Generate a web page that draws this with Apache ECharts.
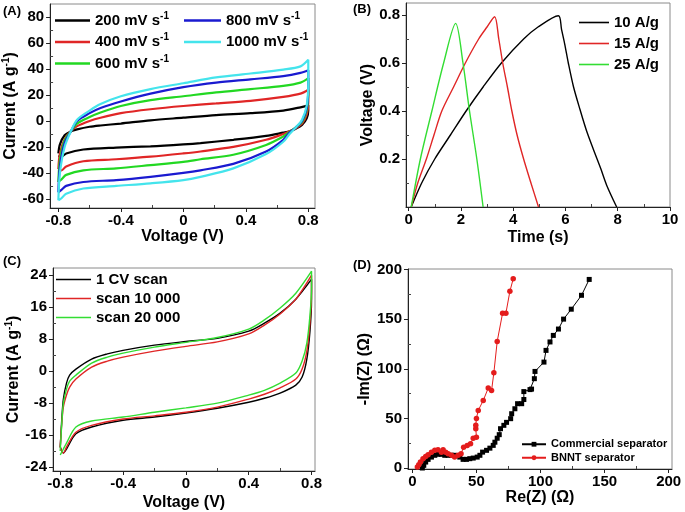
<!DOCTYPE html>
<html><head><meta charset="utf-8">
<script src="https://cdn.jsdelivr.net/npm/echarts@6/dist/echarts.min.js"></script>
<style>html,body{margin:0;padding:0;background:#fff}#c{width:685px;height:512px}</style>
</head><body><div id="c"></div>
<script>
// ---------- Panel A: CV at different scan rates ----------
const A_upV = [-0.8,-0.79,-0.76,-0.72,-0.68,-0.6,-0.53,-0.4,-0.21,0,0.21,0.43,0.64,0.75,0.8];
const A_loV = [0.8,0.79,0.76,0.72,0.68,0.64,0.53,0.32,0.11,0,-0.21,-0.43,-0.64,-0.75,-0.78,-0.8];
const A_200_up = [-25,-18,-11,-8,-6.5,-4.5,-3.5,-2,0.5,2.5,4.5,6,8,10.5,12];
const A_200_lo = [8,2,-3,-6,-8,-9,-11.5,-14.5,-17,-18,-19.5,-20.5,-22,-25,-27.5,-27];
const A_400_up = [-37,-25,-14,-8,-4,0,2.5,6,9,11.5,13.5,15.5,18.5,21,24];
const A_400_lo = [14,5,-2,-5.5,-8,-10,-14.5,-20,-23.5,-25,-27.5,-29.5,-31,-35,-38,-38];
const A_600_up = [-47,-30,-15,-8,-2,3,6.5,11.5,16,19,22,24.5,27,29.5,33];
const A_600_lo = [20,8,-1,-5,-8.5,-12,-18.5,-26,-29.5,-31.5,-34,-36.5,-38,-41.5,-45,-47];
const A_800_up = [-55,-35,-17,-8,0,6,10,15,21,26,29.5,32,34.5,37,39];
const A_800_lo = [25,10,0,-5,-9,-14.5,-23.5,-33,-38,-40,-43,-45.5,-47,-50,-53,-55];
const A_1000_up = [-61,-40,-20,-8,1,8,13,19,24.5,29,33.5,36.5,39.5,42,47];
const A_1000_lo = [30,12,1,-5,-10,-16,-25.5,-36.5,-43,-45.5,-48,-50,-52,-56,-59.5,-61];
const A_names = ['200 mV s','400 mV s','600 mV s','800 mV s','1000 mV s'];
const A_xLabels = [-0.8,-0.4,0,0.4,0.8];
const A_xMinor = [-0.6,-0.2,0.2,0.6];
const A_yLabels = [-60,-40,-20,0,20,40,60,80];
const A_yMinor = [-50,-30,-10,10,30,50,70];

// ---------- Panel B: galvanostatic charge/discharge ----------
const B_10_t = [0.1,0.5,1.0,1.6,2.2,2.85,3.55,4.4,4.95,5.73,5.85,5.97,6.11,6.31,6.56,6.8,7.07,7.35,7.58,7.96];
const B_10_v = [0,0.1,0.2,0.3,0.4,0.5,0.6,0.7,0.75,0.797,0.74,0.68,0.6,0.5,0.405,0.32,0.24,0.16,0.09,0];
const B_15_t = [0.1,0.35,0.68,0.97,1.27,1.72,2.17,2.68,3.0,3.29,3.45,3.6,3.78,3.95,4.15,4.4,4.68,4.97];
const B_15_v = [0,0.1,0.2,0.3,0.4,0.5,0.6,0.7,0.75,0.793,0.7,0.6,0.5,0.4,0.3,0.2,0.1,0];
const B_25_t = [0.1,0.45,0.89,1.34,1.8,2.08,2.33,2.61,2.85];
const B_25_v = [0,0.2,0.4,0.6,0.765,0.6,0.4,0.2,0];
const B_names = ['10 A/g','15 A/g','25 A/g'];
const B_xLabels = [0,2,4,6,8,10];
const B_xMinor = [1,3,5,7,9];
const B_yLabels = [0.2,0.4,0.6,0.8];
const B_yMinor = [0.1,0.3,0.5,0.7];

// ---------- Panel C: cycling CV ----------
const C_upV = [-0.8,-0.79,-0.78,-0.76,-0.74,-0.7,-0.6,-0.5,-0.4,-0.2,0,0.2,0.4,0.5,0.6,0.7,0.8];
const C_loV = [0.8,0.79,0.77,0.74,0.7,0.6,0.5,0.4,0.2,0,-0.2,-0.4,-0.6,-0.7,-0.76,-0.78,-0.8];
const C_1_up = [-19,-12,-7,-3,-1,0.5,3,4.3,5.2,6.5,7.4,8.2,10,12,14.5,18,23];
const C_1_lo = [18,10,3,-1.5,-3.5,-5.5,-6.8,-7.8,-9.3,-10.5,-11.5,-12.3,-14,-15.7,-19.5,-20.5,-19];
const C_10k_up = [-19,-13,-9,-6,-4,-2,1,2.5,3.5,5,6.2,7.3,9.3,11.5,14.3,18,24];
const C_10k_lo = [20,12,5,0.5,-2,-4.2,-5.8,-7,-9,-10.3,-11.2,-12,-13.6,-15.3,-19,-20.5,-19];
const C_20k_up = [-20,-13,-8,-4.5,-2.5,-1,2,3.5,4.5,6,7.2,8.4,10.5,12.8,15.8,19.5,25];
const C_20k_lo = [21,14,7,2.5,-0.5,-3,-4.8,-6,-8,-9.2,-10.3,-11.5,-12.5,-14,-18,-19.5,-21];
const C_names = ['1 CV scan','scan 10 000','scan 20 000'];
const C_yLabels = [-24,-16,-8,0,8,16,24];
const C_yMinor = [-20,-12,-4,4,12,20];

// ---------- Panel D: Nyquist ----------
const D_com_re = [7.8,8.9,10.4,12.3,14.9,17.5,20,22.7,25.3,27.9,30.5,33,37,39.6,42.2,44.8,47.5,50.6,52.7,54.8,57.9,60.5,63.1,64.4,66.2,67.8,68.8,71.4,73.5,76.7,77.5,80,82.1,85.3,87,87,91.8,93,95.2,95.7,102.7,104.3,107.4,110,114,118,124,132,138];
const D_com_im = [0,2.7,6,8.7,11,12.8,13.8,13.8,12.8,12.8,12.8,12.8,11,8.7,8.7,9.4,10,11,12.8,16,17.8,20,22.8,26,30,33.6,39.6,43,46,49.7,54.7,59.7,64.8,64.8,69,77,79,79.5,90,97.3,106.7,118.5,127,133.6,140,150,160,174,190];
const D_bn_re = [3.9,5,6.3,8.3,10.4,12.3,14.9,17.5,20,22.7,24,26,27.9,30.5,33,35.7,38,40,42.8,45.4,47.5,50,49.5,49.5,50,51.4,55.3,59.2,61.8,63.6,66.2,70.4,73,76.1,78.7];
const D_bn_im = [1,3.4,6,9.4,11.7,13.4,16,17.8,18.5,16,18.5,16,14.4,12.8,11,12.8,14.4,21,22.8,24.5,30,31,39.6,43,50,58,68,80.5,78,96,127.5,156,156,178,190.6];
const D_names = ['Commercial separator','BNNT separator'];
const D_labels = [0,50,100,150,200];
const D_minor = [25,75,125,175];

// ---------- helpers ----------
const FF = '"Liberation Sans", Arial, sans-serif';
const zip = (xs, ys) => xs.map((x, i) => [x, ys[i]]);
const loop = (upV, up, loV, lo) => zip(upV, up).concat(zip(loV, lo));
const fmt = v => String(Math.round(v * 100) / 100);
const nameRich = {
  n: {fontSize: 16, fontWeight: 'bold', fontFamily: FF, color: '#000'},
  s: {fontSize: 10, fontWeight: 'bold', fontFamily: FF, color: '#000', padding: [0, 0, 9, 0]}
};

function mainAxis(g, dim, min, max, labels, name, gap, pos) {
  return {
    gridIndex: g, type: 'value', min: min, max: max, position: pos,
    axisLine: {show: true, onZero: false, lineStyle: {color: '#222', width: 1}},
    axisTick: {show: true, inside: false, length: 4, customValues: labels, lineStyle: {color: '#222'}},
    axisLabel: {show: true, customValues: labels, margin: dim === 'x' ? 5 : 6, fontSize: 15, fontWeight: 'bold',
      fontFamily: FF, color: '#000', formatter: fmt},
    splitLine: {show: false},
    name: name, nameLocation: 'middle', nameGap: gap,
    nameRotate: dim === 'y' ? 90 : 0,
    nameTextStyle: {fontSize: 16, fontWeight: 'bold', fontFamily: FF, color: '#000', rich: nameRich}
  };
}
function minorAxis(g, min, max, ticks, pos) {
  return {
    gridIndex: g, type: 'value', min: min, max: max, position: pos,
    axisLine: {show: false, onZero: false},
    axisTick: {show: true, inside: true, length: 3, customValues: ticks, lineStyle: {color: '#444'}},
    axisLabel: {show: false},
    splitLine: {show: false}
  };
}
function line(name, data, color, xi, width) {
  return {type: 'line', name: name, data: data, xAxisIndex: xi, yAxisIndex: xi,
    symbol: 'none', smooth: 0.3, lineStyle: {color: color, width: width}, itemStyle: {color: color},
    emphasis: {disabled: true}, animation: false};
}
const supFmt = n => '{n|' + n + '}{s|-1}';
const legRich = {
  n: {fontSize: 15, fontWeight: 'bold', fontFamily: FF, color: '#000'},
  s: {fontSize: 10, fontWeight: 'bold', fontFamily: FF, color: '#000', padding: [0, 0, 9, 0]}
};

const A_col = ['#000000', '#e02626', '#22d822', '#1a1ad0', '#44e4ec'];
const A_data = [
  loop(A_upV, A_200_up, A_loV, A_200_lo),
  loop(A_upV, A_400_up, A_loV, A_400_lo),
  loop(A_upV, A_600_up, A_loV, A_600_lo),
  loop(A_upV, A_800_up, A_loV, A_800_lo),
  loop(A_upV, A_1000_up, A_loV, A_1000_lo)
];
const B_col = ['#000000', '#e02626', '#33dd33'];
const C_col = ['#000000', '#e02626', '#33dd33'];

const grids = [
  {left: 50, top: 4, width: 265, height: 204},
  {left: 406, top: 3, width: 264, height: 204},
  {left: 53, top: 268, width: 262, height: 203},
  {left: 408, top: 269, width: 264, height: 200}
].map(g => Object.assign({show: true, borderColor: '#8a8a8a', borderWidth: 1, backgroundColor: 'transparent'}, g));

const xAxes = [
  mainAxis(0, 'x', -0.853, 0.843, A_xLabels, 'Voltage (V)', 21, 'bottom'),
  mainAxis(1, 'x', -0.1, 10, B_xLabels, 'Time (s)', 23, 'bottom'),
  mainAxis(2, 'x', -0.846, 0.822, A_xLabels, 'Voltage (V)', 24, 'bottom'),
  mainAxis(3, 'x', -3.4, 202.6, D_labels, 'Re(Z) (Ω)', 21, 'bottom'),
  minorAxis(0, -0.853, 0.843, A_xMinor, 'bottom'),
  minorAxis(1, -0.1, 10, B_xMinor, 'bottom'),
  minorAxis(2, -0.846, 0.822, A_xMinor, 'bottom'),
  minorAxis(3, -3.4, 202.6, D_minor, 'bottom')
];
const yAxes = [
  mainAxis(0, 'y', -67, 90, A_yLabels, '{n|Current (A g}{s|-1}{n|)}', 30, 'left'),
  mainAxis(1, 'y', 0, 0.85, B_yLabels, 'Voltage (V)', 29, 'left'),
  mainAxis(2, 'y', -25, 25.8, C_yLabels, '{n|Current (A g}{s|-1}{n|)}', 30, 'left'),
  mainAxis(3, 'y', -1, 200.5, D_labels, '-Im(Z) (Ω)', 31, 'left'),
  minorAxis(0, -67, 90, A_yMinor, 'left'),
  minorAxis(1, 0, 0.85, B_yMinor, 'left'),
  minorAxis(2, -25, 25.8, C_yMinor, 'left'),
  minorAxis(3, -1, 200.5, D_minor, 'left')
];

const series = [];
A_names.forEach((n, i) => series.push(line(n, A_data[i], A_col[i], 0, 2.2)));
series.push(line(B_names[0], zip(B_10_t, B_10_v), B_col[0], 1, 1.4));
series.push(line(B_names[1], zip(B_15_t, B_15_v), B_col[1], 1, 1.4));
series.push(line(B_names[2], zip(B_25_t, B_25_v), B_col[2], 1, 1.4));
series.push(line(C_names[0], loop(C_upV, C_1_up, C_loV, C_1_lo), C_col[0], 2, 1.4));
series.push(line(C_names[1], loop(C_upV, C_10k_up, C_loV, C_10k_lo), C_col[1], 2, 1.4));
series.push(line(C_names[2], loop(C_upV, C_20k_up, C_loV, C_20k_lo), C_col[2], 2, 1.4));
series.push({type: 'line', name: D_names[0], data: zip(D_com_re, D_com_im), xAxisIndex: 3, yAxisIndex: 3,
  symbol: 'rect', symbolSize: 5, lineStyle: {color: '#000', width: 1}, itemStyle: {color: '#000'}, animation: false});
series.push({type: 'line', name: D_names[1], data: zip(D_bn_re, D_bn_im), xAxisIndex: 3, yAxisIndex: 3,
  symbol: 'circle', symbolSize: 5.5, lineStyle: {color: '#e41c1c', width: 1}, itemStyle: {color: '#e41c1c'}, animation: false});

const legBase = {orient: 'vertical', selectedMode: false, padding: 0};
const legends = [
  Object.assign({}, legBase, {data: A_names.slice(0, 3), left: 55, top: 11, itemWidth: 35, itemHeight: 2.5, itemGap: 3,
    icon: 'rect', formatter: supFmt, textStyle: {lineHeight: 18, rich: legRich}}),
  Object.assign({}, legBase, {data: A_names.slice(3), left: 184, top: 11, itemWidth: 37, itemHeight: 2.5, itemGap: 3,
    icon: 'rect', formatter: supFmt, textStyle: {lineHeight: 18, rich: legRich}}),
  Object.assign({}, legBase, {data: B_names, left: 579, top: 14, itemWidth: 30, itemHeight: 1.6, itemGap: 4,
    icon: 'rect', textStyle: {fontSize: 15, fontWeight: 'bold', fontFamily: FF, color: '#000', lineHeight: 17}}),
  Object.assign({}, legBase, {data: C_names, left: 56, top: 271, itemWidth: 35, itemHeight: 1.6, itemGap: 2,
    icon: 'rect', textStyle: {fontSize: 15, fontWeight: 'bold', fontFamily: FF, color: '#000', lineHeight: 17}}),
  Object.assign({}, legBase, {data: D_names, left: 521, top: 438, itemWidth: 24, itemHeight: 6, itemGap: 1,
    textStyle: {fontSize: 11, fontWeight: 'bold', fontFamily: FF, color: '#000', lineHeight: 12.5}})
];

const panelLabel = (t, x, y) => ({type: 'text', left: x, top: y,
  style: {text: t, fontSize: 13, fontWeight: 'bold', fontFamily: FF, fill: '#000'}});

const chart = echarts.init(document.getElementById('c'), null, {renderer: 'canvas'});
chart.setOption({
  animation: false,
  backgroundColor: '#fff',
  grid: grids,
  xAxis: xAxes,
  yAxis: yAxes,
  legend: legends,
  series: series,
  graphic: [
    panelLabel('(A)', 3, 5),
    panelLabel('(B)', 353, 3),
    panelLabel('(C)', 3, 255),
    panelLabel('(D)', 353, 259)
  ]
});
</script></body></html>
